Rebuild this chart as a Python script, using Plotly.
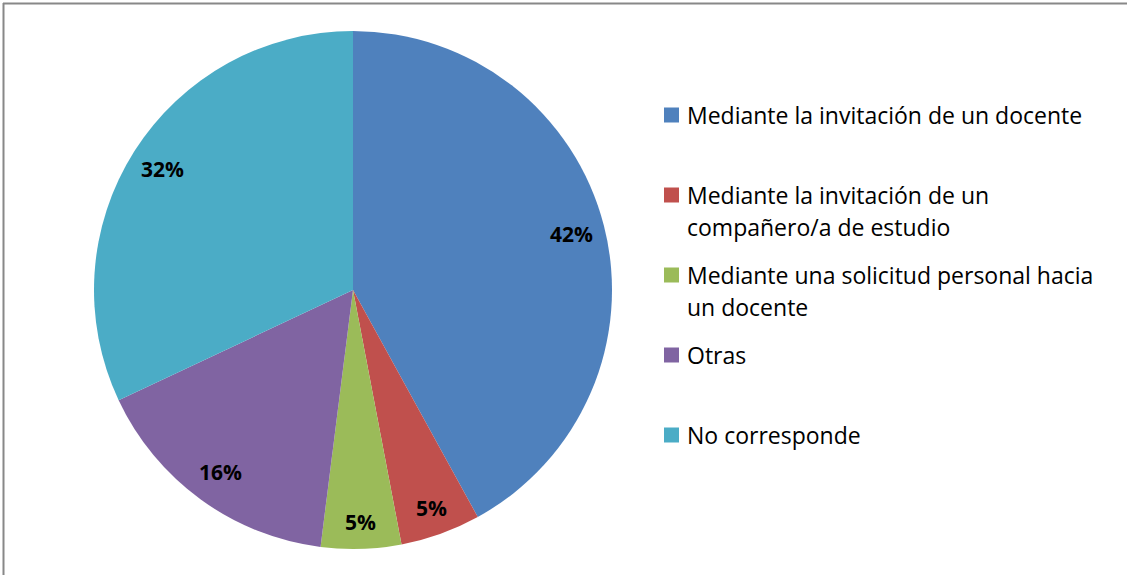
import math
import plotly.graph_objects as go

labels = ['Mediante la invitación de un docente',
          'Mediante la invitación de un<br>compañero/a de estudio',
          'Mediante una solicitud personal hacia<br>un docente',
          'Otras',
          'No corresponde']
values = [42, 5, 5, 16, 32]
colors = ['#4F81BD', '#C0504D', '#9BBB59', '#8064A2', '#4BACC6']

W, H = 1127, 575
cx, cy, R = 353, 290, 259

fig = go.Figure()
fig.add_trace(go.Pie(labels=labels, values=values,
                     marker=dict(colors=colors, line=dict(width=0)),
                     sort=False, direction='clockwise', rotation=0,
                     textinfo='none', hoverinfo='label+percent',
                     showlegend=False,
                     domain=dict(x=[(cx - R) / W, (cx + R) / W],
                                 y=[1 - (cy + R) / H, 1 - (cy - R) / H])))

# percentage labels near the rim, placed by slice mid-angle
total = sum(values)
cum = 0
for v in values:
    ang = 2 * math.pi * (cum + v / 2) / total
    cum += v
    rf = 0.87 if v > 10 else 0.895
    px = cx + rf * R * math.sin(ang)
    py = cy - rf * R * math.cos(ang)
    fig.add_annotation(x=px / W, y=1 - py / H, xref='paper', yref='paper',
                       xanchor='center', yanchor='middle',
                       text='<b>%d%%</b>' % round(100 * v / total), showarrow=False,
                       font=dict(family='Open Sans', size=21, color='black'))

# legend drawn by hand to mimic the Excel layout
for i, (lab, col) in enumerate(zip(labels, colors)):
    y0 = 115 + 80 * i
    fig.add_shape(type='rect', xref='paper', yref='paper',
                  x0=664 / W, x1=679 / W, y0=1 - (y0 - 7.5) / H, y1=1 - (y0 + 7.5) / H,
                  fillcolor=col, line=dict(width=0))
    for j, line in enumerate(lab.split('<br>')):
        fig.add_annotation(x=685 / W, y=1 - (y0 + 32 * j) / H, xref='paper', yref='paper',
                           xanchor='left', yanchor='middle', text=line, showarrow=False,
                           font=dict(family='Open Sans', size=23, color='black'))

# chart frame (left and top edges are the only visible ones)
fig.add_shape(type='line', xref='paper', yref='paper',
              x0=3.5 / W, x1=3.5 / W, y0=0, y1=1 - 3 / H,
              line=dict(color='#888888', width=2))
fig.add_shape(type='line', xref='paper', yref='paper',
              x0=3 / W, x1=1, y0=1 - 3.5 / H, y1=1 - 3.5 / H,
              line=dict(color='#888888', width=2))

fig.update_layout(width=W, height=H, margin=dict(l=0, r=0, t=0, b=0),
                  paper_bgcolor='white', plot_bgcolor='white')
fig.write_html('out.html', config={'displayModeBar': False},
               post_script="document.body.style.margin='0';")
